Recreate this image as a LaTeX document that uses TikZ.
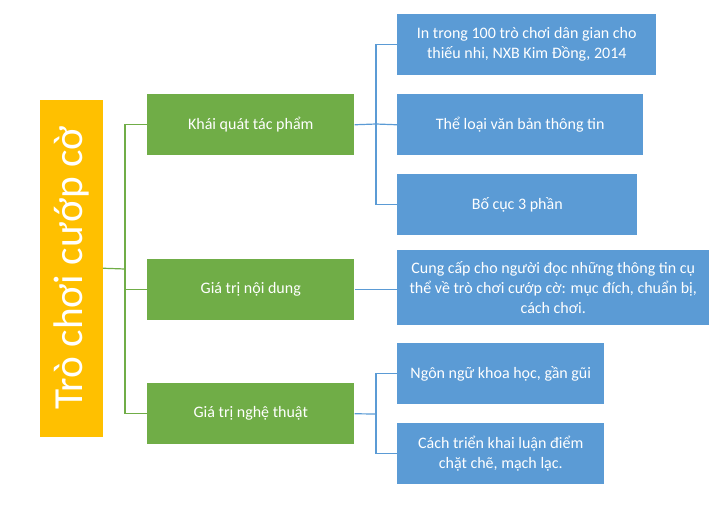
\documentclass[tikz,border=0pt]{standalone}
\usepackage{fontspec}
\setmainfont{Carlito}
\usetikzlibrary{positioning}

\definecolor{boxgreen}{HTML}{70AD47}
\definecolor{boxblue}{HTML}{5B9BD5}
\definecolor{boxyellow}{HTML}{FFC000}

\begin{document}
\begin{tikzpicture}[x=0.75pt, y=-0.75pt]
    \tikzset{
        base/.style={anchor=north west, inner sep=0pt, align=center,
            text=white, font=\fontsize{12}{15}\selectfont},
        topic/.style={base, fill=boxgreen, minimum width=207*0.75pt,
            minimum height=61*0.75pt},
        detail/.style={base, fill=boxblue, minimum height=61*0.75pt},
        glink/.style={boxgreen, line width=0.9pt},
        blink/.style={boxblue, line width=0.9pt}
    }
    \useasboundingbox (0, 0) rectangle (726, 508);

    % Title bar
    \node[base, fill=boxyellow, minimum width=337*0.75pt, minimum height=63*0.75pt,
          rotate=90, anchor=south west, font=\fontsize{31}{36}\selectfont]
        (title) at (103, 437) {Trò chơi cướp cờ};

    % Topics
    \node[topic] (general) at (147, 94) {Khái quát tác phẩm};
    \node[topic] (content) at (147, 259) {Giá trị nội dung};
    \node[topic] (art) at (147, 383) {Giá trị nghệ thuật};

    % Details
    \node[detail, minimum width=259*0.75pt] (src) at (397, 14)
        {In trong 100 trò chơi dân gian cho\\thiếu nhi, NXB Kim Đồng, 2014};
    \node[detail, minimum width=246*0.75pt] (genre) at (397, 94)
        {Thể loại văn bản thông tin};
    \node[detail, minimum width=240*0.75pt] (layout) at (397, 174)
        {Bố cục 3 phần};
    \node[detail, minimum width=312*0.75pt, minimum height=75*0.75pt] (info) at (397, 250)
        {Cung cấp cho người đọc những thông tin cụ\\thể về trò chơi cướp cờ: mục đích, chuẩn bị,\\cách chơi.};
    \node[detail, minimum width=207*0.75pt] (lang) at (397, 343)
        {Ngôn ngữ khoa học, gần gũi};
    \node[detail, minimum width=207*0.75pt] (logic) at (397, 423)
        {Cách triển khai luận điểm\\chặt chẽ, mạch lạc.};

    % Green connectors
    \coordinate (gfork) at (125, 269);
    \draw[glink] (title.south) -- (gfork);
    \draw[glink] (gfork) |- (general.west);
    \draw[glink] (gfork) |- (content.west);
    \draw[glink] (gfork) |- (art.west);

    % Blue connectors
    \coordinate (bfork1) at (376, 124);
    \draw[blink] (general.east) -- (bfork1);
    \draw[blink] (bfork1) |- (src.west);
    \draw[blink] (bfork1) -- (genre.west);
    \draw[blink] (bfork1) |- (layout.west);
    \draw[blink] (content.east) -- (content.east -| info.west);
    \coordinate (bfork2) at (376, 414);
    \draw[blink] (art.east) -- (bfork2);
    \draw[blink] (bfork2) |- (lang.west);
    \draw[blink] (bfork2) |- (logic.west);
\end{tikzpicture}
\end{document}
